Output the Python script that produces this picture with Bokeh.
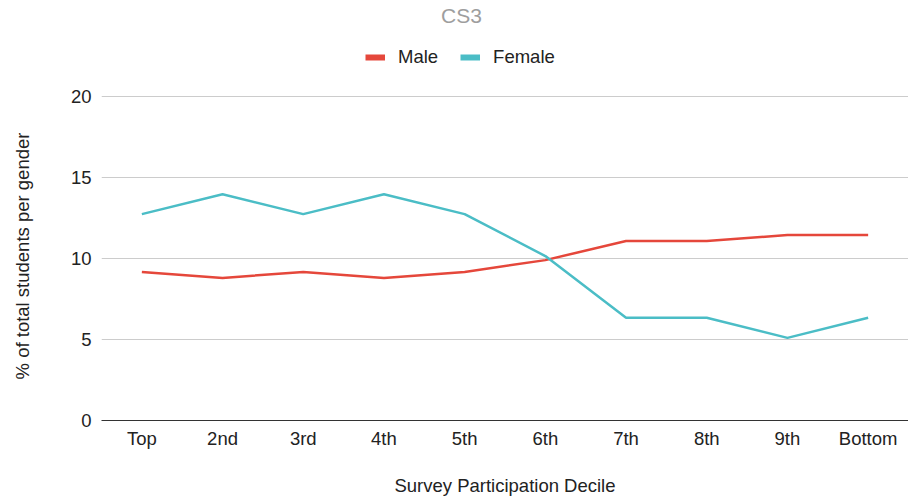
from bokeh.plotting import figure
from bokeh.layouts import column
from bokeh.models import FactorRange, Range1d, Legend, LegendItem, FixedTicker, Label
from bokeh.embed import file_html
from bokeh.resources import INLINE

deciles = ["Top", "2nd", "3rd", "4th", "5th", "6th", "7th", "8th", "9th", "Bottom"]
male = [9.17, 8.8, 9.17, 8.8, 9.17, 9.9, 11.08, 11.08, 11.45, 11.45]
female = [12.74, 13.97, 12.74, 13.97, 12.74, 10.15, 6.34, 6.34, 5.1, 6.34]
y_ticks = [0, 5, 10, 15, 20]

RED = "#e5473b"
TEAL = "#4bbdc6"
FONT = "Liberation Sans"
FS = "18.5px"

# ---- header: title + legend ----
head = figure(width=908, height=80,
              x_range=FactorRange(*deciles, range_padding=0),
              y_range=Range1d(0, 20),
              x_axis_location=None, y_axis_location=None,
              output_backend="svg", toolbar_location=None,
              min_border=0)
head.outline_line_color = None
head.grid.visible = False
head.border_fill_color = "white"

l_m = head.line(deciles, male, line_color=RED, line_width=6, visible=False)
l_f = head.line(deciles, female, line_color=TEAL, line_width=6, visible=False)

head.add_layout(Label(x=360, y=65, x_units="screen", y_units="screen", text="CS3",
                      text_align="center", text_baseline="middle", text_font=FONT,
                      text_font_size="21px", text_color="#9e9e9e"))

legend = Legend(items=[LegendItem(label="Male", renderers=[l_m]),
                       LegendItem(label="Female", renderers=[l_f])],
                orientation="horizontal", location=(264, 12),
                label_text_font=FONT, label_text_font_size=FS,
                label_text_color="#222222",
                glyph_width=20, glyph_height=20, label_height=20,
                label_standoff=13, spacing=22, padding=0, margin=0,
                border_line_color=None, background_fill_alpha=0,
                inactive_fill_alpha=0)
head.add_layout(legend, "center")

# ---- main chart ----
p = figure(width=908, height=418,
           x_range=FactorRange(*deciles, range_padding=0),
           y_range=Range1d(0, 20.31),
           output_backend="svg", toolbar_location=None,
           min_border_left=101, min_border_right=0,
           min_border_top=11, min_border_bottom=78)
p.outline_line_color = None
p.background_fill_color = "white"
p.border_fill_color = "white"

p.line(deciles, male, line_color=RED, line_width=2.5)
p.line(deciles, female, line_color=TEAL, line_width=2.5)

p.yaxis.ticker = FixedTicker(ticks=y_ticks)
p.yaxis.axis_line_color = None
p.yaxis.major_tick_line_color = None
p.yaxis.minor_tick_line_color = None
p.yaxis.major_tick_out = 0
p.yaxis.major_tick_in = 0
p.yaxis.major_label_standoff = 10
p.yaxis.major_label_text_font = FONT
p.yaxis.major_label_text_font_size = FS
p.yaxis.major_label_text_color = "#222222"
p.yaxis.axis_label = "% of total students per gender"
p.yaxis.axis_label_text_font = FONT
p.yaxis.axis_label_text_font_size = FS
p.yaxis.axis_label_text_font_style = "normal"
p.yaxis.axis_label_text_color = "#222222"
p.yaxis.axis_label_standoff = 35

p.xaxis.axis_line_color = "#333333"
p.xaxis.axis_line_width = 1
p.xaxis.major_tick_line_color = None
p.xaxis.minor_tick_line_color = None
p.xaxis.major_tick_out = 0
p.xaxis.major_tick_in = 0
p.xaxis.major_label_standoff = 7
p.xaxis.major_label_text_font = FONT
p.xaxis.major_label_text_font_size = FS
p.xaxis.major_label_text_color = "#222222"
p.xaxis.axis_label = "Survey Participation Decile"
p.xaxis.axis_label_text_font = FONT
p.xaxis.axis_label_text_font_size = FS
p.xaxis.axis_label_text_font_style = "normal"
p.xaxis.axis_label_text_color = "#222222"
p.xaxis.axis_label_standoff = 23

p.xgrid.grid_line_color = None
p.ygrid.grid_line_color = "#cccccc"
p.ygrid.grid_line_width = 1

open("out.html", "w").write(file_html(column(head, p, spacing=0), INLINE))
